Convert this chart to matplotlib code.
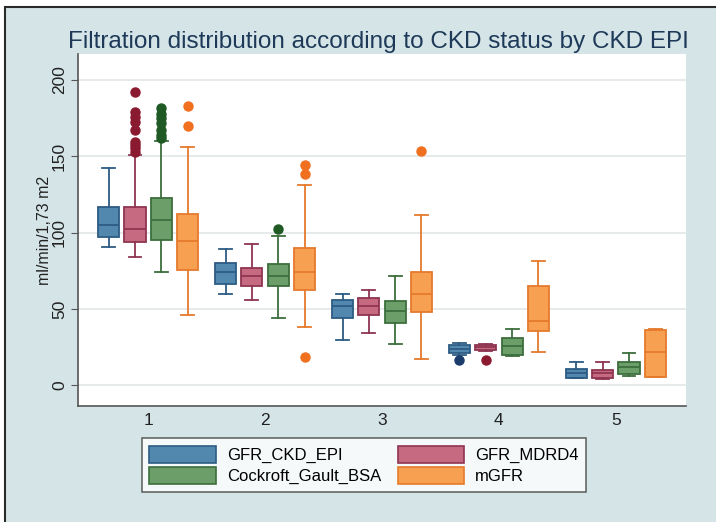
import matplotlib
matplotlib.use("Agg")
import matplotlib.pyplot as plt
from matplotlib.patches import Rectangle, Patch

plt.rcParams["font.family"] = ["Liberation Sans", "DejaVu Sans"]

# CKD stage groups
groups = [1, 2, 3, 4, 5]
series = ["GFR_CKD_EPI", "GFR_MDRD4", "Cockroft_Gault_BSA", "mGFR"]

# box summaries (ml/min/1,73 m2)
epi_lo = [90.4, 60, 30, 19.6, 4.6]
epi_q1 = [97, 66.7, 43.8, 21.5, 5]
epi_med = [105, 74.3, 51.8, 24, 8.3]
epi_q3 = [116.5, 80.2, 55.8, 26.5, 10.5]
epi_hi = [142.6, 89.3, 59.9, 27.5, 15.3]
epi_out = [[], [], [], [16.3], []]

mdrd_lo = [84.3, 56.2, 34.4, 22.5, 4.5]
mdrd_q1 = [93.7, 64.9, 45.8, 23, 4.6]
mdrd_med = [102.6, 71.4, 52.3, 25, 8]
mdrd_q3 = [116.5, 76.7, 56.9, 26.5, 10]
mdrd_hi = [151, 92.8, 62.7, 27, 15.3]
mdrd_out = [[192.4, 178.9, 176, 172.7, 167.3, 159.7, 157.5, 155.3, 153], [], [], [16.3], []]

cg_lo = [74, 44.2, 27.2, 19.2, 6]
cg_q1 = [95.4, 64.9, 41, 20, 7.6]
cg_med = [108, 71.9, 48.6, 25.5, 12.2]
cg_q3 = [122.6, 79.7, 55.1, 31, 15.3]
cg_hi = [160, 98, 71.9, 36.6, 20.9]
cg_out = [[181.5, 178, 175, 171.7, 167.3, 164, 162], [102.6], [], [], []]

m_lo = [45.8, 38.1, 17, 22, 5.4]
m_q1 = [75.8, 62.7, 47.9, 35.9, 5.6]
m_med = [94.3, 74, 60.1, 42, 21.8]
m_q3 = [112.2, 89.8, 74, 64.9, 36]
m_hi = [156.4, 130.9, 111.8, 81.3, 37]
m_out = [[183, 170], [144.4, 138.6, 18.5], [153.3], [], []]

fills = ["#5287ae", "#c66a81", "#6b9e68", "#f8a052"]
edges = ["#2d5b83", "#8f3551", "#3d6e3d", "#e57a2c"]
dots = ["#1c3c6c", "#8a1a30", "#1f5a25", "#f07020"]

all_data = [
    (epi_lo, epi_q1, epi_med, epi_q3, epi_hi, epi_out),
    (mdrd_lo, mdrd_q1, mdrd_med, mdrd_q3, mdrd_hi, mdrd_out),
    (cg_lo, cg_q1, cg_med, cg_q3, cg_hi, cg_out),
    (m_lo, m_q1, m_med, m_q3, m_hi, m_out),
]
offsets = [-0.3375, -0.1125, 0.1125, 0.3375]

W, H = 716, 522
fig = plt.figure(figsize=(W / 100, H / 100), dpi=100, facecolor="white")
bg = "#d4e4e7"
fig.patches.append(Rectangle((5 / W, -0.1), 1.2, 1 - 7 / H + 0.1, transform=fig.transFigure,
                             facecolor=bg, edgecolor="#2a2a2a", linewidth=1.5, zorder=-10))

ax = fig.add_axes([78 / W, 1 - 406 / H, (686 - 78) / W, (406 - 54) / H])
ax.set_facecolor("white")

for k, (lo, q1, med, q3, hi, out) in enumerate(all_data):
    stats = []
    for i in range(len(groups)):
        stats.append(dict(whislo=lo[i], q1=q1[i], med=med[i], q3=q3[i], whishi=hi[i], fliers=out[i]))
    pos = [g + offsets[k] for g in groups]
    ax.bxp(stats, positions=pos, widths=0.18, capwidths=0.11, patch_artist=True, manage_ticks=False,
           boxprops=dict(facecolor=fills[k], edgecolor=edges[k], linewidth=1.3),
           whiskerprops=dict(color=edges[k], linewidth=1.3),
           capprops=dict(color=edges[k], linewidth=1.3),
           medianprops=dict(color=edges[k], linewidth=1.3),
           flierprops=dict(marker="o", markersize=6.5, markerfacecolor=dots[k],
                           markeredgecolor=dots[k]))

ax.set_xlim(0.4, 5.6)
ax.set_ylim(-13.5, 217)
ax.set_yticks([0, 50, 100, 150, 200])
ax.set_xticks(groups)
ax.set_xticklabels([str(g) for g in groups])
ax.yaxis.grid(True, color="#e1e6e8", linewidth=1.2)
ax.set_axisbelow(True)
for s in ["top", "right"]:
    ax.spines[s].set_visible(False)
for s in ["left", "bottom"]:
    ax.spines[s].set_color("#555555")
    ax.spines[s].set_linewidth(1.2)
ax.tick_params(axis="y", labelrotation=90, labelsize=12.5, length=5, pad=3,
               color="#555555", labelcolor="#222222")
ax.tick_params(axis="x", labelsize=12.5, length=0, pad=5, labelcolor="#222222")
for t in ax.get_yticklabels():
    t.set_va("center")

ax.set_ylabel("ml/min/1,73 m2", fontsize=11.5, color="#222222", labelpad=0)

fig.text(378 / W, 1 - 42 / H, "Filtration distribution according to CKD status by CKD EPI",
         ha="center", va="center", fontsize=17.5, color="#1e3a58")

handles = [Patch(facecolor=fills[k], edgecolor=edges[k], linewidth=1.2) for k in range(4)]
order = [0, 2, 1, 3]
leg = fig.legend([handles[i] for i in order], [series[i] for i in order], ncol=2,
                 loc="center", bbox_to_anchor=(364 / W, 1 - 465 / H), frameon=True,
                 fontsize=12, handlelength=4.0, handleheight=1.2, handletextpad=0.65,
                 columnspacing=1.0, labelspacing=0.25, borderpad=0.45, fancybox=False)
leg.get_frame().set_edgecolor("#444444")
leg.get_frame().set_linewidth(1.2)

fig.savefig("out.png", dpi=100, facecolor=fig.get_facecolor())
